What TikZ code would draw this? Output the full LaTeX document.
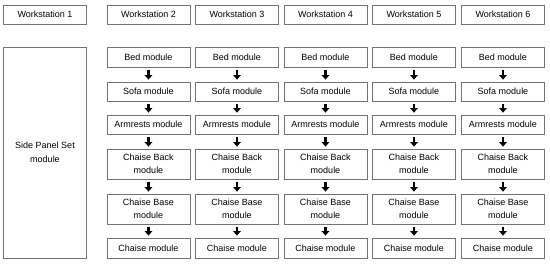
\documentclass[tikz,border=0pt]{standalone}
\usepackage{fontspec}
\setmainfont{Liberation Sans}
\usetikzlibrary{arrows.meta}

\begin{document}
\begin{tikzpicture}[
  x=1pt, y=-1pt,
  box/.style={draw=black!55, line width=0.8pt, align=center, inner sep=0pt,
    minimum width=83pt, font=\fontsize{9}{13.5}\selectfont},
  arrow/.style={-{Triangle[length=4.5pt,width=7.5pt]}, line width=2.6pt, shorten <=2.5pt, shorten >=2pt}
]
\useasboundingbox (0,0) rectangle (550,263);

% workstation 1 and its single module
\node[box, minimum height=19pt] (ws1) at (45,14.5) {Workstation 1};
\node[box, minimum height=211pt] (side) at (45,152.5) {Side Panel Set\\module};

% workstations 2 to 6
\foreach \c/\x in {2/148.5, 3/237, 4/325.5, 5/414, 6/503} {
  \node[box, minimum height=19pt] (ws\c) at (\x,14.5) {Workstation \c};
  \node[box, minimum height=20pt] (bed\c) at (\x,57) {Bed module};
  \node[box, minimum height=19pt] (sofa\c) at (\x,91.5) {Sofa module};
  \node[box, minimum height=19pt] (arm\c) at (\x,124.5) {Armrests module};
  \node[box, minimum height=30pt] (back\c) at (\x,164) {Chaise Back\\module};
  \node[box, minimum height=30pt] (base\c) at (\x,209) {Chaise Base\\module};
  \node[box, minimum height=20pt] (chaise\c) at (\x,248) {Chaise module};
  \draw[arrow] (bed\c) -- (sofa\c);
  \draw[arrow] (sofa\c) -- (arm\c);
  \draw[arrow] (arm\c) -- (back\c);
  \draw[arrow] (back\c) -- (base\c);
  \draw[arrow] (base\c) -- (chaise\c);
}
\end{tikzpicture}
\end{document}
